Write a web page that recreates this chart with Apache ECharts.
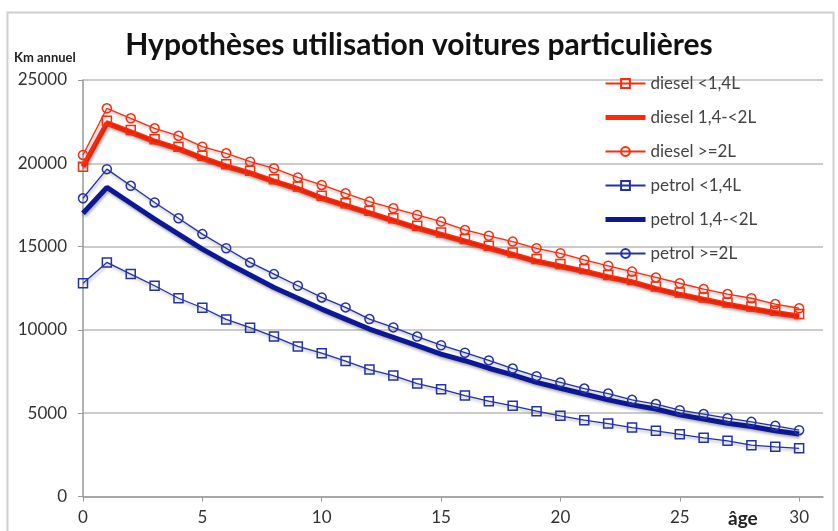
<!DOCTYPE html>
<html>
<head>
<meta charset="utf-8">
<script src="https://cdn.jsdelivr.net/npm/echarts@6/dist/echarts.min.js"></script>
<style>
html,body{margin:0;padding:0;background:#fff;}
#c{width:838px;height:531px;}
</style>
</head>
<body>
<div id="c"></div>
<script>
const titleText = 'Hypothèses utilisation voitures particulières';
const yAxisName = 'Km annuel';
const xAxisName = 'âge';
const ages = [0,1,2,3,4,5,6,7,8,9,10,11,12,13,14,15,16,17,18,19,20,21,22,23,24,25,26,27,28,29,30];
const xTicks = [0,5,10,15,20,25,30];
const yTicks = [0,5000,10000,15000,20000,25000];
const seriesNames = ['diesel <1,4L','diesel 1,4-<2L','diesel >=2L','petrol <1,4L','petrol 1,4-<2L','petrol >=2L'];

const dieselSmall = [19800,22550,22000,21450,21000,20450,19950,19550,19050,18600,18050,17600,17150,16700,16250,15850,15450,15050,14650,14250,13950,13650,13300,13000,12600,12250,11950,11650,11400,11150,10950];
const dieselMid   = [19800,22400,21850,21300,20850,20300,19800,19400,18900,18450,17900,17450,17000,16550,16100,15700,15300,14900,14500,14100,13800,13500,13150,12850,12450,12100,11800,11500,11250,11000,10800];
const dieselLarge = [20500,23300,22700,22100,21650,21000,20600,20100,19700,19150,18700,18200,17700,17300,16900,16500,16000,15650,15300,14900,14600,14200,13850,13500,13150,12800,12450,12150,11900,11550,11300];
const petrolSmall = [12800,14050,13350,12650,11900,11330,10630,10130,9600,9010,8600,8130,7620,7260,6780,6440,6060,5720,5440,5120,4840,4580,4380,4140,3940,3730,3520,3340,3080,2980,2890];
const petrolMid   = [17000,18550,17600,16650,15750,14850,14050,13300,12550,11900,11250,10650,10050,9550,9050,8550,8150,7700,7300,6850,6500,6150,5800,5500,5250,4900,4650,4400,4200,3950,3750];
const petrolLarge = [17900,19650,18650,17650,16700,15750,14900,14050,13350,12650,11950,11350,10650,10150,9600,9080,8630,8170,7680,7220,6850,6480,6180,5800,5550,5180,4950,4700,4480,4240,3980];

const RED = '#ff2a0a';
const BLUE_THIN = '#2232a8';
const BLUE_THICK = '#0c1896';
const FONT = 'Lato';

function pairs(vals){ return ages.map((a,i)=>[a, vals[i]]); }
const shadow = {shadowColor:'rgba(0,0,0,0.35)', shadowBlur:3, shadowOffsetX:1, shadowOffsetY:2};

function thin(name, vals, color, symbol){
  return {
    name, type:'line', data:pairs(vals), symbol, symbolSize:9,
    lineStyle:Object.assign({color, width:1.3}, shadow),
    itemStyle:{color:'rgba(255,255,255,0)', borderColor:color, borderWidth:1.5},
    emphasis:{disabled:true}, animation:false, z:3
  };
}
function thick(name, vals, color){
  return {
    name, type:'line', data:pairs(vals), symbol:'none', showSymbol:false,
    lineStyle:Object.assign({color, width:5}, shadow),
    itemStyle:{color},
    emphasis:{disabled:true}, animation:false, z:2
  };
}

const thickColors = {1:RED, 4:BLUE_THICK};
const legendData = seriesNames.map((n, i) => thickColors[i]
  ? {name:n, itemStyle:{opacity:0}, lineStyle:{width:5, color:thickColors[i]}}
  : {name:n});

const chart = echarts.init(document.getElementById('c'), null, {renderer:'canvas'});
chart.setOption({
  backgroundColor:'#fff',
  animation:false,
  title:{
    text:titleText, left:'center', top:25,
    textStyle:{fontFamily:FONT, fontSize:30, fontWeight:'bold', color:'#111'}
  },
  legend:{
    orient:'vertical', left:598, top:70, itemWidth:40, itemHeight:11, itemGap:17,
    textStyle:{fontFamily:FONT, fontSize:17, color:'#444'},
    data:legendData
  },
  grid:{left:83, top:80, right:15, bottom:34.5, containLabel:false},
  xAxis:{
    type:'value', min:0, max:31, interval:5,
    axisLine:{show:true, lineStyle:{color:'#999', width:1.5}},
    axisTick:{show:true, length:5, lineStyle:{color:'#999'}, customValues:xTicks},
    axisLabel:{fontFamily:FONT, fontSize:17, color:'#333', margin:13, customValues:xTicks},
    splitLine:{show:false}
  },
  yAxis:{
    type:'value', min:0, max:25000, interval:5000,
    axisLine:{show:true, lineStyle:{color:'#999', width:1.5}},
    axisTick:{show:true, length:5, lineStyle:{color:'#999'}, customValues:yTicks},
    axisLabel:{fontFamily:FONT, fontSize:17, color:'#333', margin:16, customValues:yTicks, formatter:v => String(v)},
    splitLine:{show:true, lineStyle:{color:'#cccccc', width:2}}
  },
  graphic:[
    {type:'rect', left:5, top:10, shape:{width:826, height:540}, style:{fill:'none', stroke:'#cfcfcf', lineWidth:2}, silent:true, z:-1},
    {type:'text', left:14, top:51, style:{text:yAxisName, fontFamily:FONT, fontSize:13, fontWeight:'bold', fill:'#222'}},
    {type:'text', left:728, top:509, style:{text:xAxisName, fontFamily:FONT, fontSize:19, fontWeight:'bold', fill:'#222'}}
  ],
  series:[
    thin(seriesNames[0], dieselSmall, RED, 'rect'),
    thick(seriesNames[1], dieselMid, RED),
    thin(seriesNames[2], dieselLarge, RED, 'circle'),
    thin(seriesNames[3], petrolSmall, BLUE_THIN, 'rect'),
    thick(seriesNames[4], petrolMid, BLUE_THICK),
    thin(seriesNames[5], petrolLarge, BLUE_THIN, 'circle')
  ]
});
</script>
</body>
</html>
